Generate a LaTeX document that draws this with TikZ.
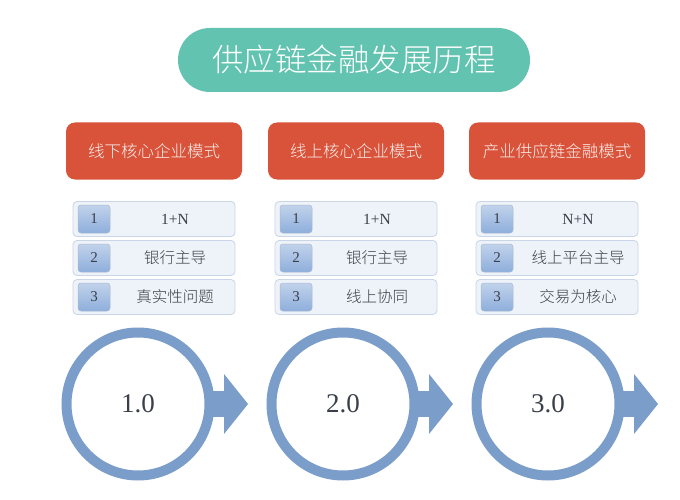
\documentclass[tikz,border=0pt]{standalone}
\usepackage{fontspec}
\setmainfont{Liberation Serif}
\newfontfamily\cjk{Noto Sans CJK SC}[UprightFont=* Light]
\usetikzlibrary{shapes.geometric,calc}
\definecolor{teal1}{HTML}{62C3B0}
\definecolor{red1}{HTML}{D8533A}
\definecolor{ring}{HTML}{7B9DC9}
\definecolor{rowfill}{HTML}{EEF2F9}
\definecolor{rowline}{HTML}{CAD6E8}
\definecolor{numfill}{HTML}{8EAEDB}
\definecolor{txt}{HTML}{3A3F4A}
\tikzset{
  titlebox/.style={fill=teal1, rounded corners=32pt, minimum width=352pt, minimum height=64pt, text=white, font=\cjk\fontsize{31.5}{31.5}\selectfont, inner sep=0pt},
  headbox/.style={fill=red1, rounded corners=9pt, minimum width=176pt, minimum height=57pt, text=white!92!red1, font=\cjk\fontsize{16.5}{16.5}\selectfont, inner sep=0pt},
  rowbox/.style={fill=rowfill, draw=rowline, line width=0.8pt, rounded corners=4pt, minimum width=162pt, minimum height=35pt, inner sep=0pt},
  numbox/.style={top color=numfill!55!white, bottom color=numfill, draw=numfill!80!black!60, line width=0.5pt, rounded corners=3pt, minimum width=32pt, minimum height=28pt, inner sep=0pt, text=txt, font=\fontsize{15}{15}\selectfont},
  rowtext/.style={text=txt, font=\cjk\fontsize{15.5}{15.5}\selectfont, inner sep=0pt},
  ringc/.style={draw=ring, line width=10pt, circle, minimum size=143pt, inner sep=0pt, text=txt, font=\fontsize{27}{27}\selectfont},
  arrowhead/.style={fill=ring, draw=none}
}
\begin{document}
\begin{tikzpicture}[x=1pt,y=-1pt]
\useasboundingbox (0,0) rectangle (680,500);
\fill[white] (0,0) rectangle (680,500);
\node[titlebox] (title) at (354,60) {供应链金融发展历程};
\foreach \i/\cx/\ccx/\head/\ra/\rb/\rc/\ver in {
  1/154/138/线下核心企业模式/{\rmfamily 1+N}/银行主导/真实性问题/1.0,
  2/356/343/线上核心企业模式/{\rmfamily 1+N}/银行主导/线上协同/2.0,
  3/557/548/产业供应链金融模式/{\rmfamily N+N}/线上平台主导/交易为核心/3.0}{
  \node[headbox] (h\i) at (\cx,151) {\head};
  \node[rowbox] (r\i a) at (\cx,219) {};
  \node[rowbox] (r\i b) at (\cx,258) {};
  \node[rowbox] (r\i c) at (\cx,297) {};
  \node[numbox] (n\i a) at ($(\cx,219)+(-60,0)$) {1};
  \node[numbox] (n\i b) at ($(\cx,258)+(-60,0)$) {2};
  \node[numbox] (n\i c) at ($(\cx,297)+(-60,0)$) {3};
  \node[rowtext] (t\i a) at ($(\cx,219)+(21,0)$) {\ra};
  \node[rowtext] (t\i b) at ($(\cx,258)+(21,0)$) {\rb};
  \node[rowtext] (t\i c) at ($(\cx,297)+(21,0)$) {\rc};
  \coordinate (cc\i) at (\ccx,404);
  \fill[arrowhead] ($(cc\i)+(70,-13)$) rectangle ($(cc\i)+(88,13)$);
  \fill[arrowhead] ($(cc\i)+(86,-30)$) -- ($(cc\i)+(110,0)$) -- ($(cc\i)+(86,30)$) -- cycle;
  \node[ringc, fill=white] (c\i) at (cc\i) {\ver};
}
\end{tikzpicture}
\end{document}
